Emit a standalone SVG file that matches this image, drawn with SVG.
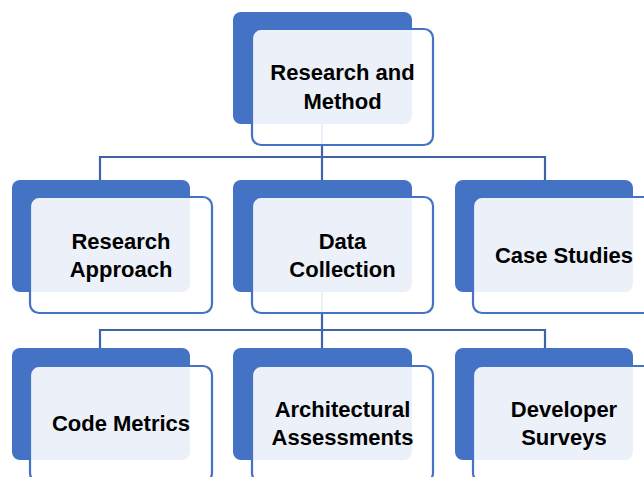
<svg xmlns="http://www.w3.org/2000/svg" width="644" height="477" viewBox="0 0 644 477">
<style>
.back{fill:#4472C4}
.front{fill:#FFFFFF;fill-opacity:0.9;stroke:#4472C4;stroke-width:2.2}
.conn{fill:none;stroke:#3F63A8;stroke-width:2.2}
text{font-family:"Liberation Sans",Arial,sans-serif;font-weight:bold;font-size:22px;fill:#000;text-anchor:middle}
</style>
<rect width="644" height="477" fill="#FFFFFF"/>
<g id="connectors">
<path class="conn" d="M322,124 V157 M100,180 V157 H545 V180 M322,157 V180"/>
<path class="conn" d="M322,292 V330 M100,348 V330 H545 V348 M322,330 V348"/>
</g>
<g id="n-research-method">
<rect class="back" x="233" y="12" width="179" height="112" rx="8"/>
<rect class="front" x="252" y="29" width="181" height="116" rx="9"/>
<text x="342.5" y="80">Research and</text>
<text x="342.5" y="109">Method</text>
</g>
<g id="n-research-approach">
<rect class="back" x="12" y="180" width="178" height="112" rx="8"/>
<rect class="front" x="30" y="197" width="182" height="116" rx="9"/>
<text x="121" y="249">Research</text>
<text x="121" y="277">Approach</text>
</g>
<g id="n-data-collection">
<rect class="back" x="233" y="180" width="179" height="112" rx="8"/>
<rect class="front" x="252" y="197" width="181" height="116" rx="9"/>
<text x="342.5" y="249">Data</text>
<text x="342.5" y="277">Collection</text>
</g>
<g id="n-case-studies">
<rect class="back" x="455" y="180" width="178" height="112" rx="8"/>
<rect class="front" x="473" y="197" width="182" height="116" rx="9"/>
<text x="564" y="263">Case Studies</text>
</g>
<g id="n-code-metrics">
<rect class="back" x="12" y="348" width="178" height="112" rx="8"/>
<rect class="front" x="30" y="366" width="182" height="116" rx="9"/>
<text x="121" y="431">Code Metrics</text>
</g>
<g id="n-architectural-assessments">
<rect class="back" x="233" y="348" width="179" height="112" rx="8"/>
<rect class="front" x="252" y="366" width="181" height="116" rx="9"/>
<text x="342.5" y="417">Architectural</text>
<text x="342.5" y="445">Assessments</text>
</g>
<g id="n-developer-surveys">
<rect class="back" x="455" y="348" width="178" height="112" rx="8"/>
<rect class="front" x="473" y="366" width="182" height="116" rx="9"/>
<text x="564" y="417">Developer</text>
<text x="564" y="445">Surveys</text>
</g>
</svg>
